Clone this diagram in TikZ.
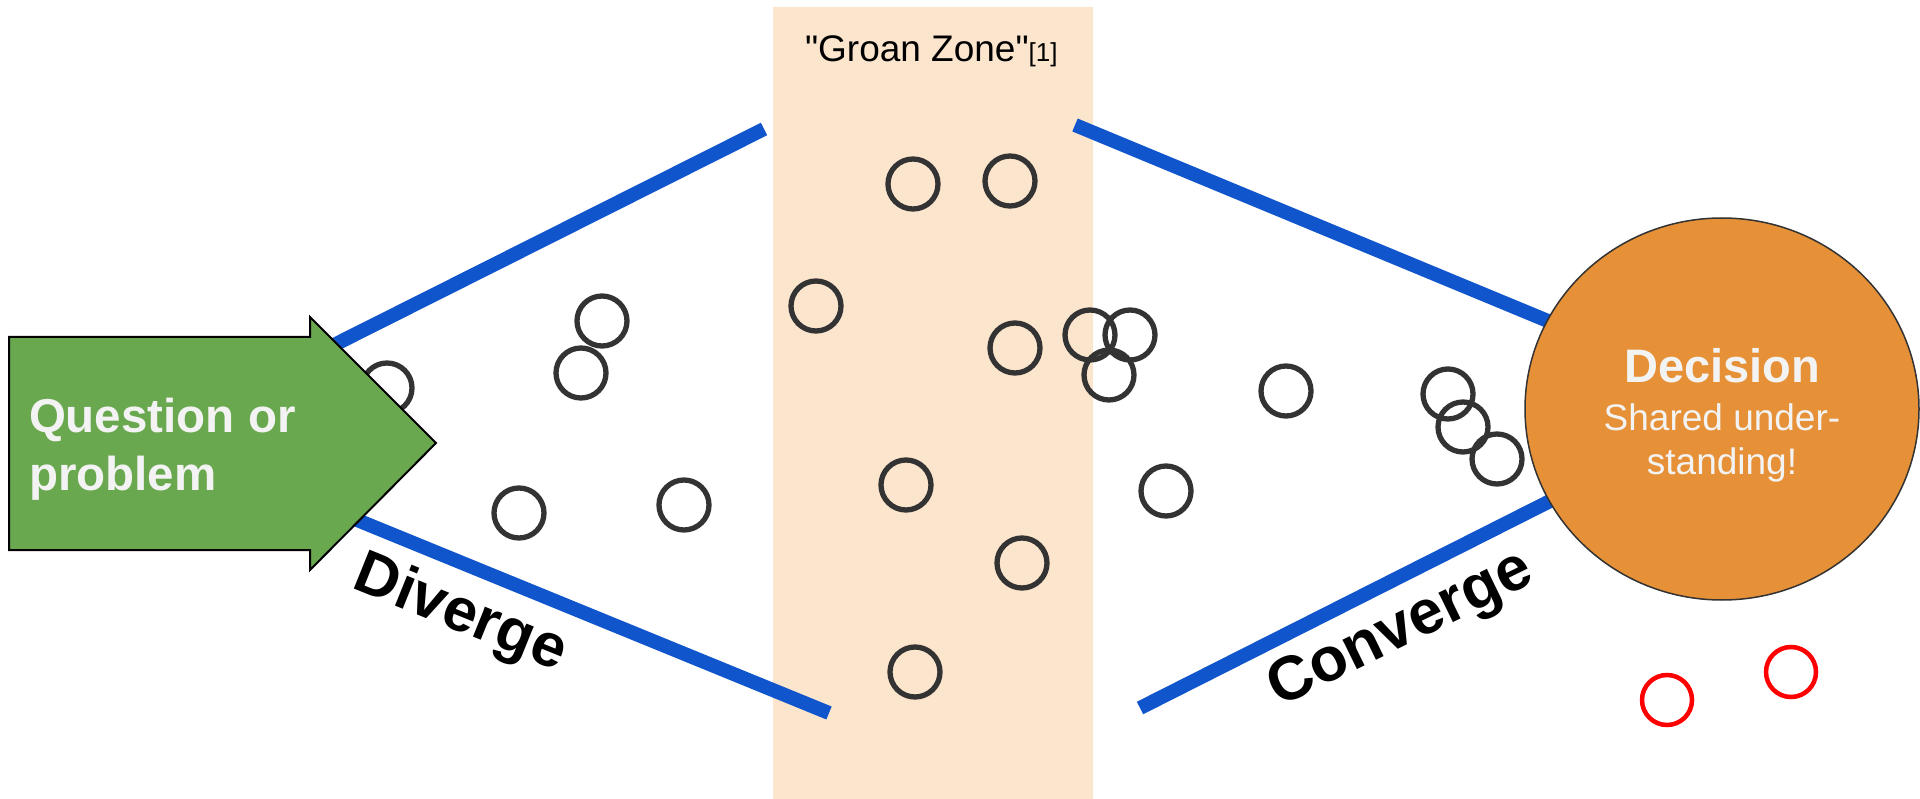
\documentclass[tikz,border=0pt]{standalone}
\usepackage{fontspec}
\setmainfont{Liberation Sans}
\newfontfamily\gzfont{Liberation Sans}
\usetikzlibrary{shapes.geometric}
\definecolor{zone}{HTML}{FCE5CD}
\definecolor{blueline}{HTML}{1155CC}
\definecolor{arrowgreen}{HTML}{6AA84F}
\definecolor{decorange}{HTML}{E69138}
\definecolor{ringgray}{HTML}{333333}
\definecolor{ringred}{HTML}{FF0000}
\definecolor{lighttext}{HTML}{F3F3F3}
\tikzset{
  ring/.style={circle, draw=ringgray, line width=5.3pt, minimum size=50pt, inner sep=0pt},
  redring/.style={ring, draw=ringred, line width=4.5pt},
  bluepath/.style={draw=blueline, line width=14pt},
  lbl/.style={inner sep=0pt, outer sep=0pt}
}
\begin{document}
\begin{tikzpicture}[x=1pt,y=-1pt]
\useasboundingbox (0,0) rectangle (1920,799);
% groan zone
\fill[zone] (773,7) rectangle (1093,799);
\node[lbl, anchor=base west] (gz) at (805,62) {\gzfont\fontsize{37}{40}\selectfont "Groan Zone"\fontsize{26}{28}\selectfont[1]};
% blue lines
\coordinate (l1a) at (320,352);
\coordinate (l1b) at (764,129);
\coordinate (l2a) at (340,513);
\coordinate (l2b) at (829,713);
\coordinate (l3a) at (1075,125);
\coordinate (l3b) at (1560,326);
\coordinate (l4a) at (1140,708);
\coordinate (l4b) at (1560,496);
\draw[bluepath] (l1a) -- (l1b);
\draw[bluepath] (l2a) -- (l2b);
\draw[bluepath] (l3a) -- (l3b);
\draw[bluepath] (l4a) -- (l4b);
% rings
\node[ring] (c1) at (387,388) {};
\node[ring] (c2) at (602,321) {};
\node[ring] (c3) at (581,373) {};
\node[ring] (c4) at (519,513) {};
\node[ring] (c5) at (684,505) {};
\node[ring] (c6) at (913,184) {};
\node[ring] (c7) at (1010,181) {};
\node[ring] (c8) at (816,306) {};
\node[ring] (c9) at (1015,348) {};
\node[ring] (c10) at (1090,335) {};
\node[ring] (c11) at (1130,335) {};
\node[ring] (c12) at (1109,375) {};
\node[ring] (c13) at (906,485) {};
\node[ring] (c14) at (1022,563) {};
\node[ring] (c15) at (915,672) {};
\node[ring] (c16) at (1286,391) {};
\node[ring] (c17) at (1166,491) {};
\node[ring] (c18) at (1448,394) {};
\node[ring] (c19) at (1463,427) {};
\node[ring] (c20) at (1497,459) {};
\node[redring] (r1) at (1667,700) {};
\node[redring] (r2) at (1791,672) {};
% arrow
\draw[fill=arrowgreen, draw=black, line width=2pt, line join=miter]
  (9,337) -- (310,337) -- (310,317) -- (436,443) -- (310,570) -- (310,550) -- (9,550) -- cycle;
\node[lbl, anchor=base west, text=lighttext] (q1) at (29,432) {\fontsize{47.5}{58}\selectfont\bfseries Question or};
\node[lbl, anchor=base west, text=lighttext] (q2) at (29,490) {\fontsize{47.5}{58}\selectfont\bfseries problem};
% decision
\node[ellipse, draw=ringgray, line width=1.5pt, fill=decorange, minimum width=394pt, minimum height=382pt, inner sep=0pt] (dec) at (1722,409) {};
\node[lbl, anchor=base, text=lighttext] (d1) at (1722,383) {\fontsize{47}{50}\selectfont\bfseries Decision};
\node[lbl, anchor=base, text=lighttext] (d2) at (1722,431) {\fontsize{37}{43}\selectfont Shared under-};
\node[lbl, anchor=base, text=lighttext] (d3) at (1722,474) {\fontsize{37}{43}\selectfont standing!};
% labels
\node[lbl, rotate=-22] (div) at (460,615) {\fontsize{61}{64}\selectfont\bfseries Diverge};
\node[lbl, rotate=26] (conv) at (1401,631) {\fontsize{62}{64}\selectfont\bfseries Converge};
\end{tikzpicture}
\end{document}
